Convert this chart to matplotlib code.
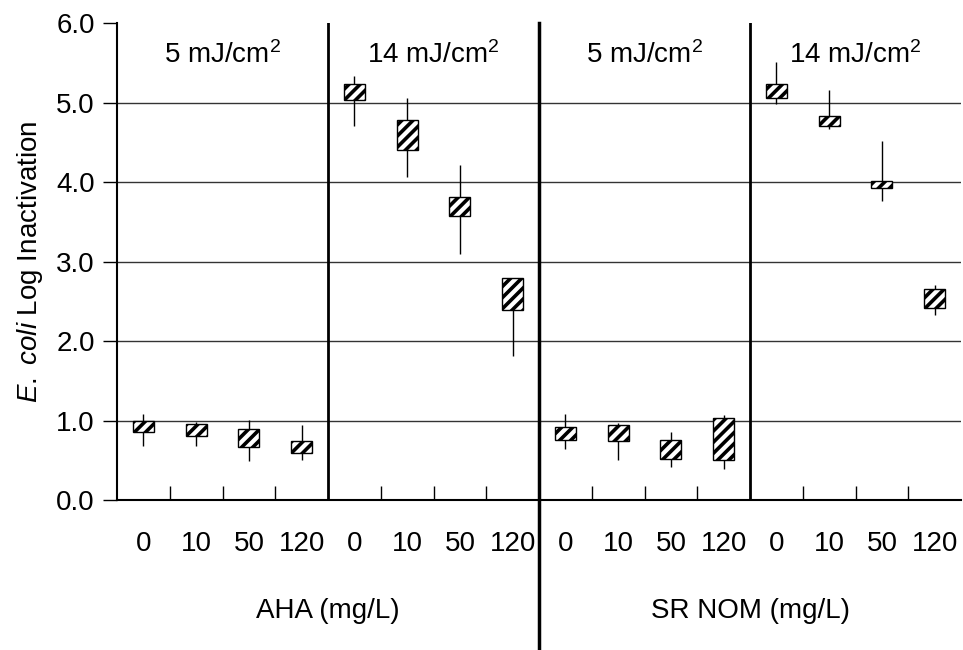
import matplotlib.pyplot as plt

plt.rcParams['font.family'] = ['Liberation Sans', 'DejaVu Sans']
plt.rcParams['mathtext.fontset'] = 'custom'
plt.rcParams['mathtext.rm'] = 'Liberation Sans'
plt.rcParams['mathtext.it'] = 'Liberation Sans:italic'
plt.rcParams['hatch.linewidth'] = 2.6

conc_labels = ["0", "10", "50", "120"] * 4
panel_titles = ["5 mJ/cm$^2$", "14 mJ/cm$^2$", "5 mJ/cm$^2$", "14 mJ/cm$^2$"]
group_labels = ["AHA (mg/L)", "SR NOM (mg/L)"]

# box (25th-75th) and whisker limits
box_low = [0.86, 0.81, 0.67, 0.59,
           5.03, 4.40, 3.57, 2.39,
           0.76, 0.75, 0.52, 0.50,
           5.06, 4.71, 3.93, 2.42]
box_high = [1.00, 0.96, 0.89, 0.74,
            5.23, 4.78, 3.81, 2.80,
            0.92, 0.95, 0.76, 1.03,
            5.24, 4.83, 4.02, 2.65]
whisk_low = [0.68, 0.68, 0.49, 0.50,
             4.70, 4.07, 3.09, 1.81,
             0.64, 0.50, 0.42, 0.39,
             4.98, 4.67, 3.76, 2.33]
whisk_high = [1.09, 0.98, 1.01, 0.94,
              5.34, 5.06, 4.21, 2.80,
              1.08, 0.97, 0.86, 1.07,
              5.51, 5.16, 4.52, 2.70]

x = list(range(len(box_low)))
fs = 20

fig = plt.figure(figsize=(9.63, 6.50), dpi=100)
ax = fig.add_axes([0.1215, 0.2305, 0.8765, 0.734])

ax.vlines(x, whisk_low, whisk_high, color="black", lw=1.0, zorder=2)
heights = [h - l for h, l in zip(box_high, box_low)]
ax.bar(x, heights, bottom=box_low, width=0.4, facecolor="white",
       edgecolor="black", hatch="///", linewidth=1.0, zorder=3)

ax.set_xlim(-0.5, 15.5)
ax.set_ylim(0, 6)
ax.set_yticks([0, 1, 2, 3, 4, 5, 6])
ax.set_yticklabels([f"{v:.1f}" for v in range(7)], fontsize=fs)
ax.tick_params(axis="y", direction="out", length=10, width=1, pad=6)
for v in [1, 2, 3, 4, 5]:
    ax.axhline(v, color="#333333", lw=1.0, zorder=1)

ax.set_xticks(x)
ax.set_xticklabels(conc_labels, fontsize=fs)
ax.tick_params(axis="x", length=0, pad=22)
ax.set_xticks([i + 0.5 for i in range(15) if (i + 1) % 4 != 0], minor=True)
ax.tick_params(axis="x", which="minor", direction="in", length=10, width=1)

for s in ["top", "right"]:
    ax.spines[s].set_visible(False)
ax.spines["left"].set_linewidth(1.5)
ax.spines["bottom"].set_linewidth(1.5)

# panel separators
ax.axvline(3.5, color="black", lw=2)
ax.axvline(11.5, color="black", lw=2)
ax.plot([7.5, 7.5], [6, -2.0], color="black", lw=2.5, clip_on=False)

for i, t in enumerate(panel_titles):
    ax.text(4 * i + 1.5, 5.6, t, ha="center", va="center", fontsize=fs)

for i, t in enumerate(group_labels):
    ax.text(8 * i + 3.5, -1.39, t, ha="center", va="center", fontsize=fs)

ax.set_ylabel(r"$\mathit{E.\ coli}$ Log Inactivation", fontsize=fs, labelpad=8)

fig.savefig("out.png", dpi=100)
